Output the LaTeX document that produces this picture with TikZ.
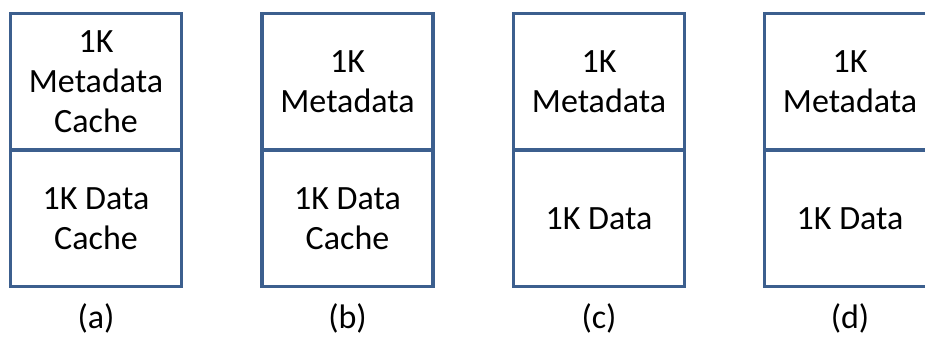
\documentclass[tikz,border=0pt]{standalone}
\usepackage{fontspec}
\setmainfont{Carlito}
\definecolor{boxblue}{HTML}{3C5F8E}
\begin{document}
\begin{tikzpicture}[x=1pt,y=-1pt,
  cell/.style={draw=boxblue,line width=3.5pt,minimum width=171pt,minimum height=136.5pt,
    inner sep=0pt,outer sep=0pt,align=center,font=\fontsize{34}{40}\selectfont,anchor=north},
  caption/.style={font=\fontsize{34}{40}\selectfont}]
\useasboundingbox (0,0) rectangle (925,337);
\clip (0,0) rectangle (925,337);
% (a)
\node[cell] (atop) at (96,13.5) {1K\\Metadata\\Cache};
\node[cell] (abot) at (atop.south) {1K Data\\Cache};
\node[caption] (acap) at (96,318) {(a)};
% (b)
\node[cell] (btop) at (347.5,13.5) {1K\\Metadata};
\node[cell] (bbot) at (btop.south) {1K Data\\Cache};
\node[caption] (bcap) at (347.5,318) {(b)};
% (c)
\node[cell] (ctop) at (599,13.5) {1K\\Metadata};
\node[cell] (cbot) at (ctop.south) {1K Data};
\node[caption] (ccap) at (599,318) {(c)};
% (d)
\node[cell] (dtop) at (850,13.5) {1K\\Metadata};
\node[cell] (dbot) at (dtop.south) {1K Data};
\node[caption] (dcap) at (850,318) {(d)};
\end{tikzpicture}
\end{document}
